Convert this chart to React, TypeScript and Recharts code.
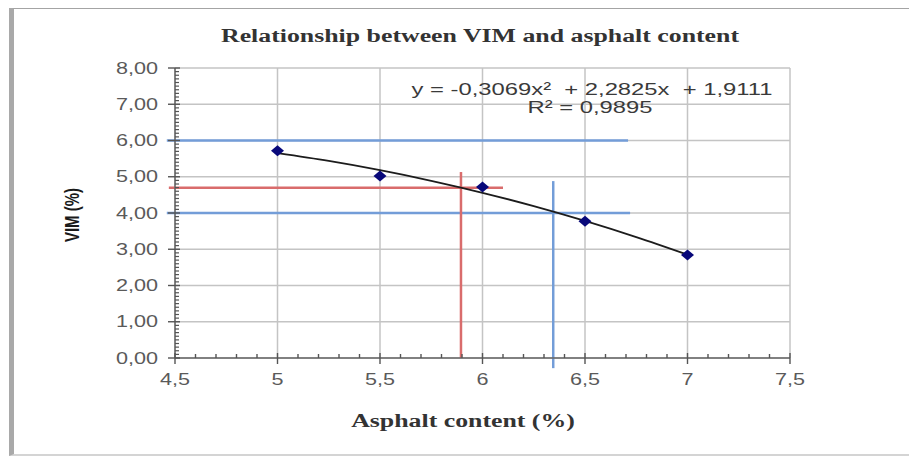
import React from 'react';
import {
  ComposedChart,
  XAxis,
  YAxis,
  CartesianGrid,
  Line,
  Scatter,
  ReferenceLine,
  Customized,
} from 'recharts';

// Measured mix data: asphalt content (%) vs. voids in mineral aggregate (%)
const asphaltContent = [5, 5.5, 6, 6.5, 7];
const vimValues = [5.72, 5.02, 4.72, 3.77, 2.84];

// Second-order trend line y = -0,3069x² + 2,2825x + 1,9111 evaluated at these points
const trendContent = [5, 5.25, 5.5, 5.75, 6, 6.25, 6.5, 6.75, 7];
const trendVim = [5.6511, 5.4353, 5.1812, 4.8886, 4.5577, 4.1884, 3.7809, 3.3349, 2.8505];

// Axis ticks
const xMajorTicks = [4.5, 5, 5.5, 6, 6.5, 7, 7.5];
const yMajorTicks = [0, 1, 2, 3, 4, 5, 6, 7, 8];

// Guide lines: VIM limits (blue) and the design value (red)
const blueLevels = [6.0, 4.0];
const blueLevelEnds = [6.71, 6.72];
const blueContent = 6.345;
const blueContentTop = 4.88;
const redLevel = 4.7;
const redLevelEnd = 6.1;
const redContent = 5.895;
const redContentTop = 5.13;

const equationText = 'y = -0,3069x²  + 2,2825x  + 1,9111';
const rSquaredText = 'R² = 0,9895';

const BLUE = '#739dd8';
const RED = '#d96c6c';
const TICK_COLOR = '#5a5a5a';
const STRETCH = 1.35;

const scatterData = asphaltContent.map((x, i) => ({ x, y: vimValues[i] }));
const trendData = trendContent.map((x, i) => ({ x, y: trendVim[i] }));

const round1 = (v: number) => Math.round(v * 10) / 10;
const xAllTicks: number[] = [];
for (let i = 0; i <= 30; i++) xAllTicks.push(round1(4.5 + i * 0.1));
const yAllTicks: number[] = [];
for (let i = 0; i <= 80; i++) yAllTicks.push(round1(i * 0.1));

const isMajor = (v: number, list: number[]) => list.some((m) => Math.abs(m - v) < 1e-6);

function XTick(props: any) {
  const { x, y, payload } = props;
  const v = payload.value as number;
  if (!isMajor(v, xMajorTicks)) {
    return <line x1={x} x2={x} y1={y} y2={y - 4} stroke="#555" strokeWidth={1.4} />;
  }
  return (
    <g>
      <line x1={x} x2={x} y1={y - 5} y2={y + 6} stroke="#555" strokeWidth={1.4} />
      <text
        transform={`translate(${x},${y + 21}) scale(${STRETCH},1)`}
        textAnchor="middle"
        dy="0.35em"
        fill={TICK_COLOR}
        fontFamily="Liberation Sans, Arial, sans-serif"
        fontSize={16}
      >
        {String(v).replace('.', ',')}
      </text>
    </g>
  );
}

function YTick(props: any) {
  const { x, y, payload } = props;
  const v = payload.value as number;
  if (!isMajor(v, yMajorTicks)) {
    return <line x1={x} x2={x + 4} y1={y} y2={y} stroke="#555" strokeWidth={1.2} />;
  }
  return (
    <g>
      <line x1={x - 7} x2={x + 5} y1={y} y2={y} stroke="#555" strokeWidth={1.4} />
      <text
        transform={`translate(${x - 17},${y}) scale(${STRETCH},1)`}
        textAnchor="end"
        dy="0.35em"
        fill={TICK_COLOR}
        fontFamily="Liberation Sans, Arial, sans-serif"
        fontSize={16}
      >
        {v.toFixed(2).replace('.', ',')}
      </text>
    </g>
  );
}

function Diamond(props: any) {
  const { cx, cy } = props;
  return (
    <polygon
      points={`${cx - 6.5},${cy} ${cx},${cy - 5.5} ${cx + 6.5},${cy} ${cx},${cy + 5.5}`}
      fill="#08087a"
    />
  );
}

function Texts() {
  return (
    <g>
      <text
        transform="translate(480,35) scale(1.36,1)"
        textAnchor="middle"
        dy="0.35em"
        fill="#333"
        fontFamily="Liberation Serif, Times New Roman, serif"
        fontWeight="bold"
        fontSize={19}
      >
        Relationship between VIM and asphalt content
      </text>
      <text
        transform="translate(72,215) rotate(-90) scale(1,1.35)"
        textAnchor="middle"
        dy="0.35em"
        fill="#1a1a1a"
        fontFamily="Liberation Sans, Arial, sans-serif"
        fontWeight="bold"
        fontSize={15}
      >
        VIM (%)
      </text>
      <text
        transform="translate(463,420) scale(1.36,1)"
        textAnchor="middle"
        dy="0.35em"
        fill="#333"
        fontFamily="Liberation Serif, Times New Roman, serif"
        fontWeight="bold"
        fontSize={19}
      >
        Asphalt content (%)
      </text>
      <text
        transform="translate(592,89) scale(1.4,1)"
        textAnchor="middle"
        dy="0.35em"
        fill="#3a3a3a"
        fontFamily="Liberation Sans, Arial, sans-serif"
        fontSize={17}
        style={{ whiteSpace: 'pre' }}
      >
        {equationText}
      </text>
      <text
        transform="translate(590,107) scale(1.4,1)"
        textAnchor="middle"
        dy="0.35em"
        fill="#3a3a3a"
        fontFamily="Liberation Sans, Arial, sans-serif"
        fontSize={17}
      >
        {rSquaredText}
      </text>
    </g>
  );
}

export default function App() {
  return (
    <div style={{ position: 'relative', width: 917, height: 459, margin: '-8px 0 0 -8px', background: '#fff' }}>
      <div
        style={{
          position: 'absolute',
          left: 9,
          top: 5,
          width: 908,
          height: 451,
          borderLeft: '5px solid #a9a9a9',
          borderTop: '4px solid #a4a4a4',
          borderBottom: '2px solid #d4d4d4',
          boxSizing: 'border-box',
        }}
      />
      <div style={{ position: 'absolute', left: 0, top: 0 }}>
        <ComposedChart
          width={917}
          height={459}
          margin={{ top: 68, right: 127, bottom: 71, left: 115 }}
        >
          <CartesianGrid
            stroke="#c4c4c4"
            strokeWidth={1.5}
            horizontalValues={yMajorTicks}
            verticalValues={xMajorTicks}
          />
          <XAxis
            type="number"
            dataKey="x"
            domain={[4.5, 7.5]}
            ticks={xAllTicks}
            interval={0}
            tick={<XTick />}
            tickLine={false}
            tickSize={0}
            tickMargin={0}
            height={30}
            axisLine={{ stroke: '#666', strokeWidth: 1.5 }}
            allowDataOverflow
          />
          <YAxis
            type="number"
            dataKey="y"
            domain={[0, 8]}
            ticks={yAllTicks}
            interval={0}
            tick={<YTick />}
            tickLine={false}
            tickSize={0}
            tickMargin={0}
            width={60}
            axisLine={{ stroke: '#666', strokeWidth: 1.5 }}
            allowDataOverflow
          />
          {blueLevels.map((lvl, i) => (
            <ReferenceLine
              key={`b${i}`}
              segment={[
                { x: 4.46, y: lvl },
                { x: blueLevelEnds[i], y: lvl },
              ]}
              stroke={BLUE}
              strokeWidth={2.5}
              ifOverflow="visible"
            />
          ))}
          <ReferenceLine
            segment={[
              { x: 4.47, y: redLevel },
              { x: redLevelEnd, y: redLevel },
            ]}
            stroke={RED}
            strokeWidth={2.5}
            ifOverflow="visible"
          />
          <ReferenceLine
            segment={[
              { x: redContent, y: 0 },
              { x: redContent, y: redContentTop },
            ]}
            stroke={RED}
            strokeWidth={2.5}
            ifOverflow="visible"
          />
          <ReferenceLine
            segment={[
              { x: blueContent, y: -0.28 },
              { x: blueContent, y: blueContentTop },
            ]}
            stroke={BLUE}
            strokeWidth={2.5}
            ifOverflow="visible"
          />
          <Line
            data={trendData}
            dataKey="y"
            type="monotone"
            stroke="#1c1c1c"
            strokeWidth={1.8}
            dot={false}
            activeDot={false}
            isAnimationActive={false}
          />
          <Scatter data={scatterData} dataKey="y" shape={<Diamond />} isAnimationActive={false} />
          <Customized component={<Texts />} />
        </ComposedChart>
      </div>
    </div>
  );
}
